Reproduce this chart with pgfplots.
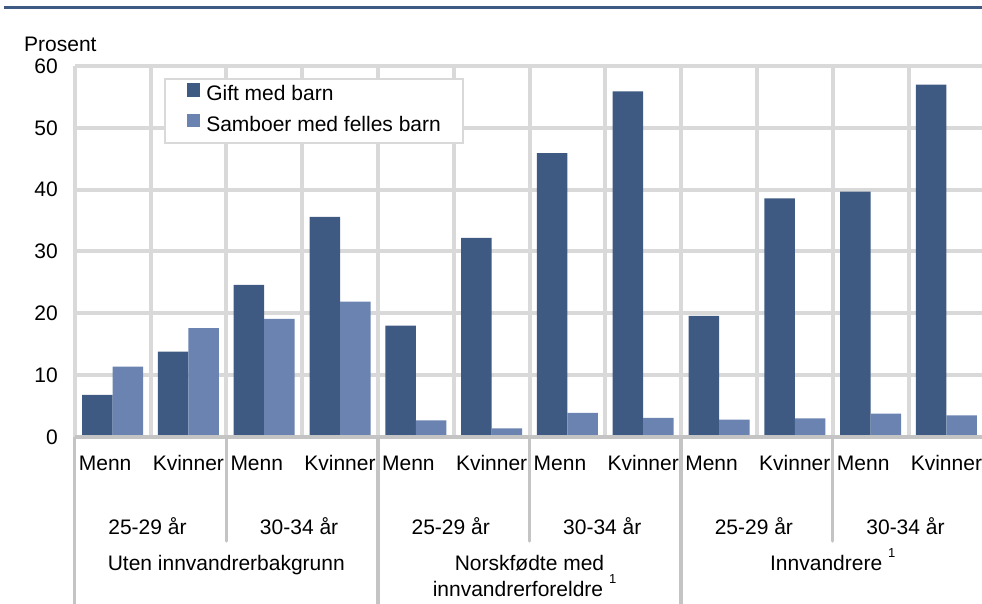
\documentclass[border=0pt]{standalone}
\usepackage{pgfplots}
\pgfplotsset{compat=1.18}
\usepackage{pgfplotstable}
\usepackage{fontspec}
\setmainfont{Liberation Sans}
\definecolor{darkbar}{HTML}{3E5A82}
\definecolor{lightbar}{HTML}{6A83B0}
\definecolor{gridgray}{HTML}{D9D9D9}
\definecolor{sepgray}{HTML}{C4C4C4}
\newcommand{\f}{\fontsize{21}{24}\selectfont}
\newcommand{\supone}{\raisebox{13pt}{\fontsize{13}{13}\selectfont 1}}

\pgfplotstableread{
x gift samboer
1 6.8 11.4
2 13.8 17.6
3 24.6 19.1
4 35.6 21.9
5 18.0 2.7
6 32.2 1.4
7 45.9 3.9
8 55.9 3.1
9 19.6 2.8
10 38.6 3.0
11 39.7 3.8
12 57.0 3.5
}\datatable

\begin{document}
\begin{tikzpicture}[x=1pt,y=1pt]
\useasboundingbox (0,0) rectangle (982,603);
\draw[darkbar, line width=3pt] (4,595) -- (982,595);
\node[anchor=base west, inner sep=0pt, font=\f] at (24,551) {Prosent};
\begin{axis}[
  at={(74.7pt,166pt)}, anchor=south west,
  scale only axis, width=909.6pt, height=371pt,
  xmin=0.5, xmax=12.5, ymin=0, ymax=60,
  axis line style={draw=none},
  xtick={0.5,1.5,...,12.5}, xticklabels={},
  ytick={0,10,...,60},
  major tick length=0pt,
  xmajorgrids, ymajorgrids,
  grid style={gridgray, line width=4pt},
  /pgf/number format/assume math mode=true,
  yticklabel style={font=\f, inner sep=0pt, anchor=east, xshift=-16.7pt},
  ybar, bar width=30.5pt,
  clip=false,
  legend cell align=left,
  legend image code/.code={\fill[#1] (0pt,0pt) rectangle (13.5pt,13.5pt);},
  legend style={at={(0.0979,0.9677)}, anchor=north west, draw=gridgray,
    line width=2pt, fill=white, font=\f, inner xsep=22pt, inner ysep=4.5pt,
    row sep=6pt,
    nodes={inner sep=0pt, text height=15pt, text depth=7pt},
    /tikz/every odd column/.append style={column sep=6pt}},
]
\addplot[fill=darkbar, draw=none, bar shift=-15.25pt] table[x=x, y=gift] {\datatable};
\addlegendentry{Gift med barn}
\addplot[fill=lightbar, draw=none, bar shift=15.25pt] table[x=x, y=samboer] {\datatable};
\addlegendentry{Samboer med felles barn}
\draw[sepgray, line width=4pt] (rel axis cs:0,0) -- (rel axis cs:1,0);
\end{axis}
% separators below the axis
\foreach \xx in {74.7,377.9,681.1,984.3} \draw[sepgray, line width=3.5pt] (\xx,166) -- (\xx,-2);
\foreach \xx in {226.3,529.5,832.7} \draw[sepgray, line width=3.5pt, line cap=round] (\xx,166) -- (\xx,62);
% level 1 labels
\foreach \xx in {78.7,230.3,381.9,533.5,685.1,836.7}
  \node[anchor=base west, inner sep=0pt, font=\f] at (\xx,132.3) {Menn};
\foreach \xx in {188.4,340.0,491.6,643.2,794.8,946.4}
  \node[anchor=base, inner sep=0pt, font=\f] at (\xx,132.3) {Kvinner};
% level 2 labels
\foreach \xx in {147.5,450.7,753.9}
  \node[anchor=base, inner sep=0pt, font=\f] at (\xx,68.7) {25-29 år};
\foreach \xx in {299.1,602.3,905.5}
  \node[anchor=base, inner sep=0pt, font=\f] at (\xx,68.7) {30-34 år};
% level 3 labels
\node[anchor=base, inner sep=0pt, font=\f] at (226.3,32.3) {Uten innvandrerbakgrunn};
\node[anchor=base, inner sep=0pt, font=\f] at (529.5,32.3) {Norskfødte med};
\node[anchor=base, inner sep=0pt, font=\f] at (524.5,6.3) {innvandrerforeldre \supone};
\node[anchor=base, inner sep=0pt, font=\f] at (832.7,32.3) {Innvandrere \supone};
\end{tikzpicture}
\end{document}
